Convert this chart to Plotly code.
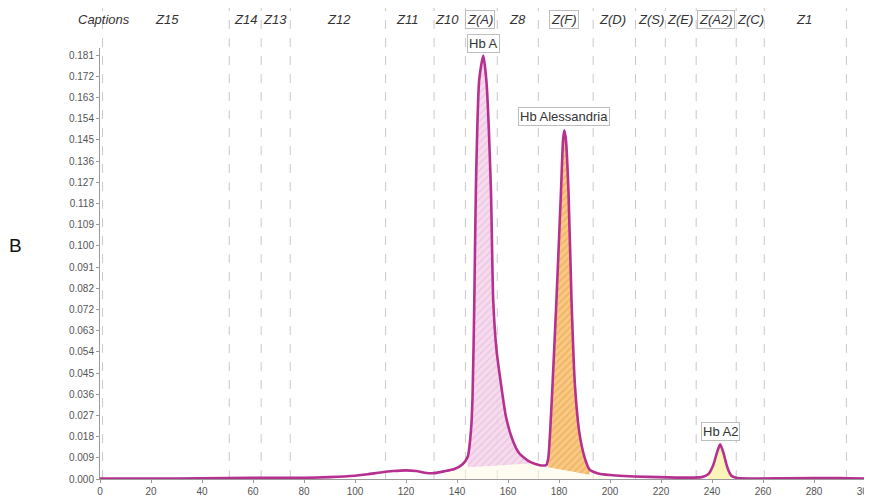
import plotly.graph_objects as go
import numpy as np

# ---------------- data ----------------
curve_x = [0, 20, 40, 60, 80, 90, 100, 105, 110, 115, 120, 124, 128, 131, 135, 139, 142.2,
           144.2, 145.5, 146.1, 146.8, 147.4, 148.7, 150.3, 151.5, 153.3, 154.2, 155.5, 157.2,
           159.2, 161.8, 164.4, 168.4, 173, 175, 175.8, 176.5, 177.5, 179, 180.8, 181.6, 182.1,
           182.7, 183.7, 184.9, 186.2, 188, 190, 192, 195, 200, 215, 230, 236, 238.5, 240.5,
           242, 243.2, 244.4, 246, 247.5, 250, 270, 290, 300]
curve_y = [0.0002, 0.0002, 0.0003, 0.0005, 0.0005, 0.0008, 0.0014, 0.002, 0.0028, 0.0034, 0.0037,
           0.0034, 0.0026, 0.0025, 0.0033, 0.0043, 0.0063,
           0.0095, 0.021, 0.035, 0.0765, 0.1235, 0.1705, 0.181, 0.1705, 0.1235, 0.0765, 0.055, 0.041,
           0.0266, 0.0167, 0.011, 0.0074, 0.0058, 0.006, 0.009, 0.0197, 0.041, 0.0765, 0.1235, 0.145, 0.149,
           0.145, 0.1235, 0.0765, 0.041, 0.0197, 0.0094, 0.004, 0.0025, 0.0017, 0.0009, 0.0006, 0.0008, 0.002, 0.006,
           0.0115, 0.0148, 0.0115, 0.005, 0.0015, 0.0004, 0.0003, 0.0004, 0.0002]

y_tick_labels = ["0.000", "0.009", "0.018", "0.027", "0.036", "0.045", "0.054", "0.063", "0.072",
                 "0.082", "0.091", "0.100", "0.109", "0.118", "0.127", "0.136", "0.145", "0.154",
                 "0.163", "0.172", "0.181"]
y_tick_step = 0.00906
x_ticks = list(range(0, 301, 20))

zone_bounds = [1, 50.7, 63.2, 74.6, 112, 131, 143.3, 155.8, 171.9, 193.4, 210, 221.7, 233.8,
               249.5, 260.5, 292.7]
zone_names = ["Captions", "Z15", "Z14", "Z13", "Z12", "Z11", "Z10", "Z(A)", "Z8", "Z(F)", "Z(D)",
              "Z(S)", "Z(E)", "Z(A2)", "Z(C)", "Z1"]
zone_centers = [1.7, 26.4, 57.0, 68.8, 93.8, 120.5, 136.2, 149.1, 163.6, 182.1, 200.9, 216.2,
                227.6, 241.7, 255.0, 276.2]
zone_boxed = ["Z(A)", "Z(F)", "Z(A2)"]

peak_names = ["Hb A", "Hb Alessandria", "Hb A2"]
peak_label_x = [150.2, 182.1, 243.2]
peak_label_y = [0.1863, 0.1551, 0.0201]

# fill regions: (x start, x end, baseline y at start, baseline y at end)
hba_region = (144.2, 168.4, 0.0050, 0.0066)
hbales_region = (175.8, 192, 0.0050, 0.0018)
hba2_region = (238.5, 247.5, 0.0, 0.0)
faint_region = (135, 200)

LINE = "#b5308f"
FONT = "Liberation Sans, Arial, sans-serif"
Y_TOP = 0.1842
# page body adds an 8px offset; figure is sized to fill the rest of the window
W, H = 864, 487
PLOT_L, PLOT_R, PLOT_T, PLOT_B = 92, 857, 40, 471

cx = np.array(curve_x)
cy = np.array(curve_y)

fig = go.Figure()


def seg(x0, x1):
    m = (cx >= x0) & (cx <= x1)
    return cx[m], cy[m]


# faint cream fill under the middle section
sx, sy = seg(*faint_region)
fig.add_trace(go.Scatter(x=sx, y=sy, mode="lines", line=dict(width=0, shape="spline", smoothing=0.6),
                         fill="tozeroy", fillcolor="rgba(253,250,228,0.55)", hoverinfo="skip",
                         showlegend=False))


def region(r, fillcolor, pattern):
    x0, x1, b0, b1 = r
    fig.add_trace(go.Scatter(x=[x0, x1], y=[b0, b1], mode="lines", line=dict(width=0),
                             hoverinfo="skip", showlegend=False))
    sx, sy = seg(x0, x1)
    kw = {}
    if pattern:
        kw["fillpattern"] = pattern
    fig.add_trace(go.Scatter(x=sx, y=sy, mode="lines",
                             line=dict(width=0, shape="spline", smoothing=0.6),
                             fill="tonexty", fillcolor=fillcolor, hoverinfo="skip",
                             showlegend=False, **kw))


region(hba_region, "rgba(236,190,226,0.75)",
       dict(shape="/", fgcolor="rgba(205,120,190,0.5)", bgcolor="rgba(242,206,235,0.7)", size=5, solidity=0.25))
region(hbales_region, "rgba(246,185,110,0.9)",
       dict(shape="/", fgcolor="rgba(230,140,40,0.8)", bgcolor="rgba(248,196,120,0.9)", size=5, solidity=0.3))
region(hba2_region, "rgba(251,243,180,0.95)", None)

# main curve
fig.add_trace(go.Scatter(x=curve_x, y=curve_y, mode="lines",
                         line=dict(color=LINE, width=2.6, shape="spline", smoothing=0.6),
                         hoverinfo="skip", showlegend=False))

# zone dashed lines
for b in zone_bounds:
    fig.add_shape(type="line", xref="x", yref="paper", x0=b, x1=b, y0=0, y1=1.093,
                  line=dict(color="#c9c9c9", width=1, dash="dash"), layer="below")

# zone labels
for name, c in zip(zone_names, zone_centers):
    boxed = name in zone_boxed
    fig.add_annotation(x=c, y=1.065, xref="x", yref="paper", text=f"<i>{name}</i>",
                       xanchor="center", yanchor="middle",
                       showarrow=False, font=dict(family=FONT, size=13, color="#333"),
                       bordercolor="#bdbdbd" if boxed else "rgba(0,0,0,0)", borderwidth=1,
                       bgcolor="white" if boxed else "rgba(0,0,0,0)", borderpad=1)

# peak labels (y converted to paper so labels above the axis range stay visible)
for name, px, py in zip(peak_names, peak_label_x, peak_label_y):
    fig.add_annotation(x=px, y=py / Y_TOP, xref="x", yref="paper", text=name, showarrow=False,
                       xanchor="center", yanchor="middle",
                       font=dict(family=FONT, size=13, color="#333"),
                       bordercolor="#bdbdbd", borderwidth=1, bgcolor="white", borderpad=1)

# panel letter
fig.add_annotation(x=(7 - PLOT_L) / (PLOT_R - PLOT_L), y=(PLOT_B - 238) / (PLOT_B - PLOT_T),
                   xref="paper", yref="paper",
                   text="B", showarrow=False, xanchor="center", yanchor="middle",
                   font=dict(family=FONT, size=19, color="#111"))

fig.update_layout(
    width=W, height=H,
    margin=dict(l=PLOT_L, r=W - PLOT_R, t=PLOT_T, b=H - PLOT_B, autoexpand=False),
    plot_bgcolor="white", paper_bgcolor="white",
    font=dict(family=FONT),
    xaxis=dict(range=[0, 300], tickvals=x_ticks, showgrid=False, zeroline=False, automargin=False,
               showline=True, linecolor="#9a9a9a", linewidth=1, ticks="outside", ticklen=3,
               tickcolor="#9a9a9a", tickfont=dict(size=10, color="#555"),
               ticklabeloverflow="allow"),
    yaxis=dict(range=[0, Y_TOP], tickvals=[i * y_tick_step for i in range(len(y_tick_labels))],
               ticktext=y_tick_labels, showgrid=False, zeroline=False, automargin=False,
               showline=True, linecolor="#9a9a9a", linewidth=1, ticks="outside", ticklen=3,
               tickcolor="#9a9a9a", tickfont=dict(size=10, color="#555")),
)

fig.write_html("out.html")
